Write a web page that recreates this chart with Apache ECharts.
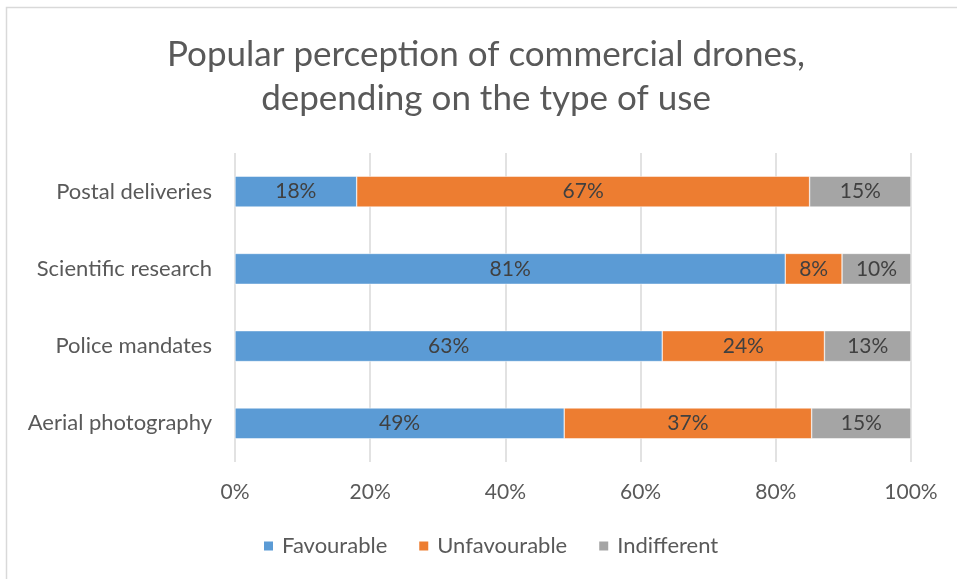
<!DOCTYPE html>
<html>
<head>
<meta charset="utf-8">
<script src="https://cdn.jsdelivr.net/npm/echarts@6/dist/echarts.min.js"></script>
<style>html,body{margin:0;padding:0;background:#fff;}#c{width:957px;height:579px;}</style>
</head>
<body>
<div id="c"></div>
<script>
const categories = ['Aerial photography', 'Police mandates', 'Scientific research', 'Postal deliveries'];
const favourable = [48.7, 63.2, 81.4, 18];
const unfavourable = [36.6, 24.0, 8.4, 67];
const indifferent = [14.7, 12.8, 10.2, 15];
const xTicks = [0, 20, 40, 60, 80, 100];

const FONT = 'Lato, Carlito, Calibri, sans-serif';
const chart = echarts.init(document.getElementById('c'));
const lbl = {
  show: true, position: 'inside', color: '#404040', fontFamily: FONT, fontSize: 21,
  formatter: p => Math.round(p.value) + '%'
};
function mk(name, data, color) {
  return {
    name, type: 'bar', stack: 'total', data, barWidth: '40%',
    itemStyle: { color, borderColor: '#fff', borderWidth: 0.5 },
    label: lbl, emphasis: { disabled: true }
  };
}
chart.setOption({
  animation: false,
  title: {
    text: 'Popular perception of commercial drones,\ndepending on the type of use',
    left: 481, top: 28, textAlign: 'center',
    textStyle: { fontFamily: FONT, fontSize: 35, fontWeight: 'normal', color: '#595959', lineHeight: 44 }
  },
  graphic: [{
    type: 'rect', shape: { x: 6.5, y: 7.5, width: 1200, height: 1200 },
    style: { fill: 'none', stroke: '#d9d9d9', lineWidth: 1.5 }, silent: true
  }],
  legend: {
    top: 530, left: 257, itemWidth: 11, itemHeight: 11, itemGap: 30,
    icon: 'rect',
    textStyle: { fontFamily: FONT, fontSize: 22, color: '#595959', padding: [0, 0, 0, 3] },
    data: ['Favourable', 'Unfavourable', 'Indifferent']
  },
  grid: { left: 235, right: 46, top: 153, bottom: 117 },
  xAxis: {
    type: 'value', min: 0, max: 100, interval: 20,
    axisLine: { show: false }, axisTick: { show: false },
    splitLine: { lineStyle: { color: '#d9d9d9', width: 1.5 } },
    axisLabel: { formatter: v => xTicks.includes(v) ? v + '%' : '', fontFamily: FONT, fontSize: 21, color: '#595959', margin: 20 }
  },
  yAxis: {
    type: 'category', data: categories,
    axisLine: { show: false }, axisTick: { show: false },
    axisLabel: { fontFamily: FONT, fontSize: 22, color: '#595959', margin: 23 }
  },
  series: [
    mk('Favourable', favourable, '#5B9BD5'),
    mk('Unfavourable', unfavourable, '#ED7D31'),
    mk('Indifferent', indifferent, '#A5A5A5')
  ]
});
</script>
</body>
</html>
